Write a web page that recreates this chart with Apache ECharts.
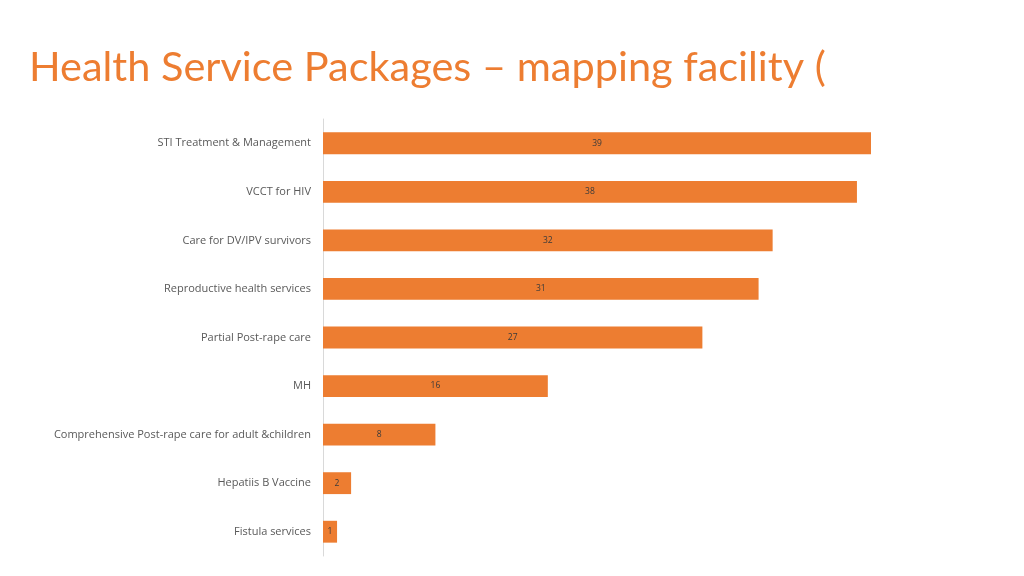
<!DOCTYPE html>
<html><head><meta charset="utf-8">
<script src="https://cdn.jsdelivr.net/npm/echarts@6/dist/echarts.min.js"></script>
<style>html,body{margin:0;padding:0;background:#fff;}#c{width:1024px;height:576px;}</style>
</head><body><div id="c"></div>
<script>
const categories = ["STI Treatment & Management","VCCT for HIV","Care for DV/IPV survivors","Reproductive health services","Partial Post-rape care","MH","Comprehensive Post-rape care for adult &children","Hepatiis B Vaccine","Fistula services"];
const values = [39,38,32,31,27,16,8,2,1];
const chart = echarts.init(document.getElementById('c'));
chart.setOption({
  animation:false,
  backgroundColor:'#fff',
  title:{text:'Health Service Packages – mapping facility (',left:24,top:42,
    textStyle:{color:'#ED7D31',fontSize:41.5,fontWeight:'normal',fontFamily:'Lato'}},
  grid:{left:323,top:119,width:548,height:437,containLabel:false},
  xAxis:{type:'value',min:0,max:39,show:false},
  yAxis:{type:'category',data:categories,inverse:true,
    axisLine:{show:true,lineStyle:{color:'#D9D9D9',width:1}},
    axisTick:{show:false},
    axisLabel:{color:'#595959',fontSize:11,fontFamily:'Open Sans',margin:12}},
  series:[{type:'bar',data:values,barCategoryGap:'55%',
    itemStyle:{color:'#ED7D31'},
    label:{show:true,position:'inside',color:'#3a3a3a',fontSize:8.5,fontFamily:'Open Sans'}}]
});
</script></body></html>
